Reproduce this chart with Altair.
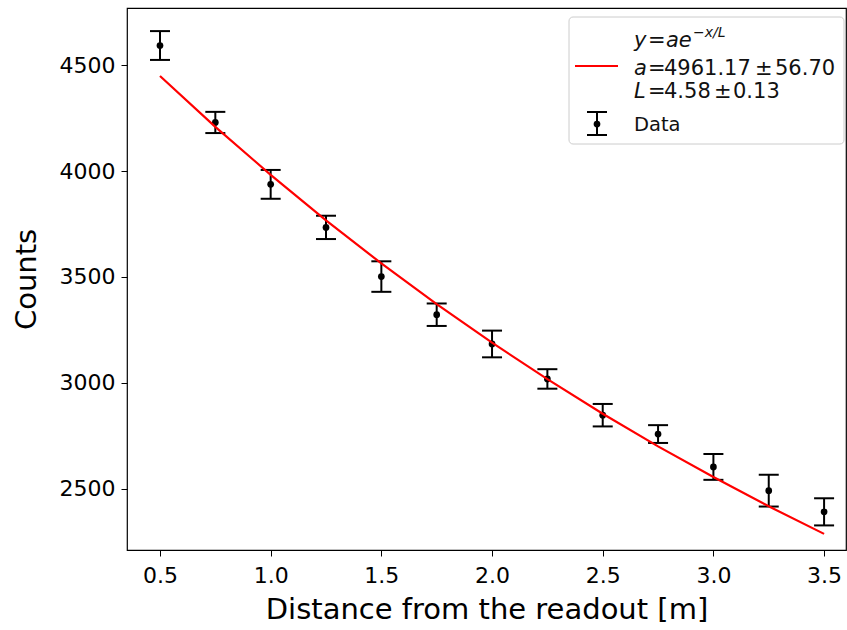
import altair as alt
import pandas as pd

# Measured data
distance = [0.5, 0.75, 1.0, 1.25, 1.5, 1.75, 2.0, 2.25, 2.5, 2.75, 3.0, 3.25, 3.5]
counts = [4592, 4229, 3937, 3734, 3502, 3322, 3184, 3019, 2848, 2759, 2604, 2492, 2392]
errors = [68, 50, 68, 55, 72, 53, 63, 46, 53, 42, 61, 75, 64]
# Fitted curve values read at the same distances
fit_values = [4448, 4208, 3982, 3767, 3564, 3372, 3190, 3018, 2855, 2701, 2556, 2418, 2288]

x_ticks = [0.5, 1.0, 1.5, 2.0, 2.5, 3.0, 3.5]
y_ticks = [2500, 3000, 3500, 4000, 4500]

df = pd.DataFrame({
    "x": distance,
    "y": counts,
    "lo": [c - e for c, e in zip(counts, errors)],
    "hi": [c + e for c, e in zip(counts, errors)],
    "fit": fit_values,
})

FONT = "DejaVu Sans"
xs = alt.Scale(domain=[0.351, 3.599], nice=False, zero=False)
ys = alt.Scale(domain=[2212, 4769], nice=False, zero=False)

xax = alt.Axis(values=x_ticks, format=".1f", title="Distance from the readout [m]",
               grid=False, domain=False, tickColor="black", tickSize=6, labelColor="black",
               labelFontSize=22, labelFont=FONT, labelPadding=9,
               titleFont=FONT, titleFontSize=29, titleFontWeight="normal", titleColor="black", titlePadding=9)
yax = alt.Axis(values=y_ticks, format="d", title="Counts",
               grid=False, domain=False, tickColor="black", tickSize=6, labelColor="black",
               labelFontSize=22, labelFont=FONT, labelPadding=6,
               titleFont=FONT, titleFontSize=29, titleFontWeight="normal", titleColor="black", titlePadding=18)

base = alt.Chart(df)

bars = base.mark_rule(color="black", strokeWidth=2).encode(
    x=alt.X("x:Q", scale=xs, axis=xax),
    y=alt.Y("lo:Q", scale=ys, axis=yax),
    y2="hi:Q",
)
caps_hi = base.mark_point(shape="M -1 0 L 1 0", size=400, filled=False, color="black",
                          strokeWidth=2, opacity=1).encode(
    x=alt.X("x:Q", scale=xs), y=alt.Y("hi:Q", scale=ys))
caps_lo = base.mark_point(shape="M -1 0 L 1 0", size=400, filled=False, color="black",
                          strokeWidth=2, opacity=1).encode(
    x=alt.X("x:Q", scale=xs), y=alt.Y("lo:Q", scale=ys))
pts = base.mark_circle(color="black", size=45, opacity=1).encode(
    x=alt.X("x:Q", scale=xs), y=alt.Y("y:Q", scale=ys))
fit = base.mark_line(color="red", strokeWidth=2.2).encode(
    x=alt.X("x:Q", scale=xs), y=alt.Y("fit:Q", scale=ys))

one = alt.Data(values=[{"k": 1}])
leg = alt.Chart(one)
# legend frame (plot origin at left=127, top=8)
L0 = 127
T0 = 8
box = leg.mark_rect(fill="white", fillOpacity=0.8, stroke="#cccccc", strokeWidth=1, cornerRadius=4).encode(
    x=alt.value(569 - L0), x2=alt.value(844 - L0), y=alt.value(17 - T0), y2=alt.value(144 - T0))
red = leg.mark_rule(color="red", strokeWidth=2.2).encode(
    x=alt.value(575 - L0), x2=alt.value(618 - L0), y=alt.value(66 - T0))

def txt(s, x, y, size=21, style="normal"):
    return leg.mark_text(text=s, font=FONT, fontSize=size, fontStyle=style, align="left",
                         baseline="alphabetic", color="#111").encode(x=alt.value(x - L0), y=alt.value(y - T0))

parts = [
    txt("y", 634, 47, style="italic"),
    txt("=", 648, 47),
    txt("ae", 666, 47, style="italic"),
    txt("−x/L", 693, 37, size=14, style="italic"),
    txt("a", 634, 75, style="italic"),
    txt("=", 648, 75),
    txt("4961.17", 664, 75),
    txt("±", 755, 75),
    txt("56.70", 775, 75),
    txt("L", 634, 98, style="italic"),
    txt("=", 648, 98),
    txt("4.58", 664, 98),
    txt("±", 714, 98),
    txt("0.13", 733, 98),
    txt("Data", 634, 131, size=19.5),
]
eb = leg.mark_rule(color="black", strokeWidth=2).encode(
    x=alt.value(597 - L0), y=alt.value(112 - T0), y2=alt.value(135 - T0))
ec1 = leg.mark_rule(color="black", strokeWidth=2).encode(
    x=alt.value(587 - L0), x2=alt.value(607 - L0), y=alt.value(112 - T0))
ec2 = leg.mark_rule(color="black", strokeWidth=2).encode(
    x=alt.value(587 - L0), x2=alt.value(607 - L0), y=alt.value(135 - T0))
ep = leg.mark_circle(color="black", size=45, opacity=1).encode(
    x=alt.value(597 - L0), y=alt.value(124 - T0))

chart = alt.layer(
    bars, caps_hi, caps_lo, pts, fit,
    box, red, *parts, eb, ec1, ec2, ep
).properties(
    width=719, height=542,
    padding={"left": 127, "top": 8, "right": 1, "bottom": 80},
    autosize=alt.AutoSizeParams(type="none"),
    background="white",
).configure_view(stroke="black", strokeWidth=1.2)

chart.save("out.html", embed_options={"renderer": "svg", "actions": False})
